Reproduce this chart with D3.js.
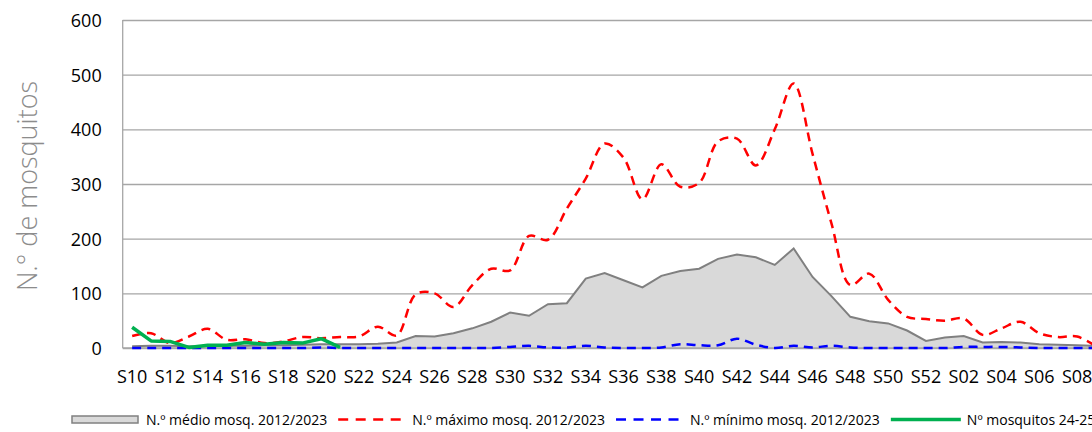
<!DOCTYPE html>
<html>
<head>
<meta charset="utf-8">
<script src="https://cdn.jsdelivr.net/npm/d3@7"></script>
<style>
  html, body { margin: 0; padding: 0; background: #fff; overflow: hidden; }
  svg { display: block; }
  text { font-family: "Open Sans", "Liberation Sans", sans-serif; }
</style>
</head>
<body>
<svg id="chart" width="1092" height="432"></svg>
<script>
// ---- data ----
const weeks = ["S10","S11","S12","S13","S14","S15","S16","S17","S18","S19","S20","S21","S22","S23","S24","S25","S26","S27","S28","S29","S30","S31","S32","S33","S34","S35","S36","S37","S38","S39","S40","S41","S42","S43","S44","S45","S46","S47","S48","S49","S50","S51","S52","S01","S02","S03","S04","S05","S06","S07","S08","S09"];
const avgValues = [3,4,4,3,3,4,4,5,5,6,7,7,7,8,10,22,21,27,36,48,65,59,80,82,127,137,124,111,132,141,145,163,171,166,152,182,130,95,57,49,45,32,13,19,22,10,11,10,7,6,5,4];
const maxValues = [22,27,9,21,35,15,16,9,12,20,18,20,21,39,23,98,100,75,115,145,142,205,198,255,310,374,348,272,336,295,302,378,383,334,400,484,355,228,115,136,88,57,53,50,54,24,36,48,27,20,21,3];
const minValues = [0,0,0,0,0,0,0,0,0,0,1,0,0,0,0,0,0,0,0,0,2,4,1,1,4,1,0,0,1,7,5,5,17,6,0,4,1,4,1,0,0,0,0,0,2,2,2,1,0,0,0,0];
const curValues = [38,13,12,1,5,5,10,7,10,9,17,1];
const yTicks = [0,100,200,300,400,500,600];
const xTickLabels = ["S10","S12","S14","S16","S18","S20","S22","S24","S26","S28","S30","S32","S34","S36","S38","S40","S42","S44","S46","S48","S50","S52","S02","S04","S06","S08"];
const legendLabels = ["N.º médio mosq. 2012/2023","N.º máximo mosq. 2012/2023","N.º mínimo mosq. 2012/2023","Nº mosquitos 24-25"];
const yTitle = "N.° de mosquitos";

// ---- layout ----
const svg = d3.select("#chart");
const plotLeft = 122.7, plotRight = 1105.5, plotTop = 20, plotBottom = 348;

const x = d3.scaleBand().domain(weeks).range([plotLeft, plotRight]).padding(0);
const cx = w => x(w) + x.bandwidth() / 2;
const y = d3.scaleLinear().domain([0, 600]).range([plotBottom, plotTop]);

const gridColor = "#a6a6a6";

// gridlines + y labels
const yAxis = svg.append("g")
  .attr("transform", `translate(${plotLeft},0)`)
  .call(d3.axisLeft(y).tickValues(yTicks).tickSizeInner(-(plotRight - plotLeft)).tickSizeOuter(0).tickPadding(21));
yAxis.select(".domain").remove();
yAxis.selectAll(".tick line").attr("stroke", gridColor).attr("stroke-width", 1.3);
yAxis.selectAll(".tick text")
  .attr("fill", "#000").attr("font-size", 18)
  .attr("font-family", "'Open Sans', sans-serif").attr("dy", "0.36em");

// left vertical axis line
svg.append("line")
  .attr("x1", plotLeft).attr("x2", plotLeft).attr("y1", plotTop).attr("y2", plotBottom)
  .attr("stroke", gridColor).attr("stroke-width", 1.3);

// x labels
const xAxis = svg.append("g")
  .attr("transform", `translate(0,${plotBottom})`)
  .call(d3.axisBottom(x).tickValues(xTickLabels).tickSize(0).tickPadding(22));
xAxis.select(".domain").remove();
xAxis.selectAll(".tick text")
  .attr("fill", "#000").attr("font-size", 18)
  .attr("font-family", "'Open Sans', sans-serif");

// area (average)
const avgData = weeks.map((w, i) => ({ w, v: avgValues[i] }));
svg.append("path")
  .datum(avgData)
  .attr("fill", "#d9d9d9")
  .attr("d", d3.area().x(d => cx(d.w)).y0(y(0)).y1(d => y(d.v)));
svg.append("path")
  .datum(avgData)
  .attr("fill", "none").attr("stroke", "#808080").attr("stroke-width", 2)
  .attr("d", d3.line().x(d => cx(d.w)).y(d => y(d.v)));

// baseline redraw (axis at 0)
svg.append("line")
  .attr("x1", plotLeft).attr("x2", plotRight).attr("y1", y(0)).attr("y2", y(0))
  .attr("stroke", gridColor).attr("stroke-width", 1.3);

// max
const smooth = d3.line().x(d => cx(d.w)).y(d => y(d.v)).curve(d3.curveCatmullRom.alpha(0.5));
svg.append("path")
  .datum(weeks.map((w, i) => ({ w, v: maxValues[i] })))
  .attr("fill", "none").attr("stroke", "#ff0000").attr("stroke-width", 2.5)
  .attr("stroke-dasharray", "9,6")
  .attr("d", smooth);

// min
svg.append("path")
  .datum(weeks.map((w, i) => ({ w, v: minValues[i] })))
  .attr("fill", "none").attr("stroke", "#0000ff").attr("stroke-width", 2.5)
  .attr("stroke-dasharray", "9,6")
  .attr("d", smooth);

// current season
svg.append("path")
  .datum(curValues.map((v, i) => ({ w: weeks[i], v })))
  .attr("fill", "none").attr("stroke", "#00b050").attr("stroke-width", 3.5)
  .attr("stroke-linejoin", "round")
  .attr("d", d3.line().x(d => cx(d.w)).y(d => y(d.v)));

// y title
svg.append("text")
  .attr("transform", `translate(37,186) rotate(-90)`)
  .attr("text-anchor", "middle")
  .attr("fill", "#8c8c8c")
  .attr("font-size", 27)
  .attr("font-weight", 300)
  .text(yTitle);

// legend
const legend = svg.append("g");
let lx = 72;
const ly = 419.5;
const symW = 66;
legendLabels.forEach((lab, i) => {
  const g = legend.append("g");
  if (i === 0) {
    g.append("rect").attr("x", lx).attr("y", ly - 3.5).attr("width", symW).attr("height", 7)
      .attr("fill", "#d9d9d9").attr("stroke", "#808080").attr("stroke-width", 1.5);
  } else if (i === 1 || i === 2) {
    g.append("line").attr("x1", lx).attr("x2", lx + symW).attr("y1", ly).attr("y2", ly)
      .attr("stroke", i === 1 ? "#ff0000" : "#0000ff").attr("stroke-width", 2.5)
      .attr("stroke-dasharray", "10,7.5");
  } else {
    g.append("line").attr("x1", lx).attr("x2", lx + symW + 4).attr("y1", ly).attr("y2", ly)
      .attr("stroke", "#00b050").attr("stroke-width", 3.5);
  }
  const t = g.append("text")
    .attr("x", lx + symW + (i === 3 ? 10 : 8)).attr("y", ly + 5)
    .attr("font-size", 14).attr("fill", "#000")
    .text(lab);
  lx = lx + symW + 8 + t.node().getComputedTextLength() + 11;
});
</script>
</body>
</html>
